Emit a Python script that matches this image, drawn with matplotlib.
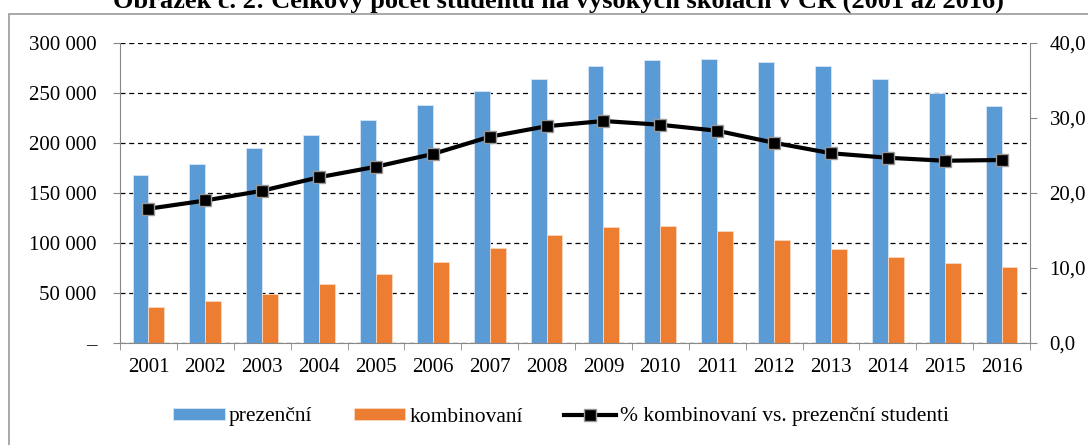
import numpy as np
import matplotlib.pyplot as plt
from matplotlib.patches import Rectangle
from matplotlib.ticker import FuncFormatter

plt.rcParams['font.family'] = ['Liberation Serif', 'DejaVu Serif']
plt.rcParams['font.size'] = 15

years = ['2001', '2002', '2003', '2004', '2005', '2006', '2007', '2008',
         '2009', '2010', '2011', '2012', '2013', '2014', '2015', '2016']
prezencni = [167700, 179000, 195300, 207700, 223000, 237700, 251700, 263700,
             276700, 283300, 284000, 281300, 277000, 263700, 249700, 236700]
kombinovani = [36000, 42000, 49300, 58700, 68700, 80700, 95000, 107700,
               116000, 116700, 111700, 102700, 93700, 85700, 79700, 76300]
podil = [17.9, 19.0, 20.3, 22.1, 23.5, 25.2, 27.5, 28.9,
         29.6, 29.1, 28.3, 26.7, 25.3, 24.7, 24.3, 24.4]

title = 'Obrázek č. 2: Celkový počet studentů na vysokých školách v ČR (2001 až 2016)'

fig = plt.figure(figsize=(10.88, 4.45), dpi=100)
ax = fig.add_axes([120 / 1088, 1 - 343 / 445, 910 / 1088, 300 / 445])

x = np.arange(len(years))
w = 0.28
ax.bar(x - w / 2, prezencni, w, color='#5B9BD5', edgecolor='#D6E6F5', linewidth=0.6,
       label='prezenční', zorder=2)
ax.bar(x + w / 2, kombinovani, w, color='#ED7D31', edgecolor='#F9D9C3', linewidth=0.6,
       label='kombinovaní', zorder=2)

ax.set_xlim(-0.5, len(years) - 0.5)
ax.set_ylim(0, 300000)
ax.set_yticks(np.arange(0, 300001, 50000))
ax.yaxis.set_major_formatter(FuncFormatter(
    lambda v, p: '–' if v == 0 else f'{int(v):,}'.replace(',', ' ')))
ax.grid(axis='y', color='black', linestyle=(0, (4, 3)), linewidth=0.9, zorder=1)
ax.set_axisbelow(True)

ax.set_xticks(x)
ax.set_xticklabels(years)
ax.set_xticks(np.arange(-0.5, len(years)), minor=True)
ax.tick_params(axis='x', which='major', length=0, pad=11)
ax.tick_params(axis='x', which='minor', length=5, color='#888888', direction='out')
ax.tick_params(axis='y', length=5, color='#888888', pad=12)

for s in ['top', 'right']:
    ax.spines[s].set_visible(False)
for s in ['left', 'bottom']:
    ax.spines[s].set_color('#888888')

ax2 = ax.twinx()
ax2.plot(x, podil, color='black', linewidth=3, marker='s', markersize=8,
         markerfacecolor='black', markeredgecolor='#999999', markeredgewidth=1,
         label='% kombinovaní vs. prezenční studenti', zorder=3)
ax2.set_ylim(0, 40)
ax2.set_yticks([0, 10, 20, 30, 40])
ax2.yaxis.set_major_formatter(FuncFormatter(lambda v, p: f'{v:.1f}'.replace('.', ',')))
ax2.tick_params(axis='y', length=5, color='#888888', pad=9)
for s in ['top', 'left', 'bottom']:
    ax2.spines[s].set_visible(False)
ax2.spines['right'].set_color('#888888')

h1, l1 = ax.get_legend_handles_labels()
h2, l2 = ax2.get_legend_handles_labels()
fig.legend(h1 + h2, l1 + l2, loc='center', bbox_to_anchor=(561 / 1088, 1 - 417 / 445),
           ncol=3, frameon=False, fontsize=15.5, handlelength=2.4, handleheight=0.44,
           columnspacing=1.9, handletextpad=0.2, numpoints=1, borderpad=0)

fig.patches.append(Rectangle((9 / 1088, -0.1), 1.2, 1 - 14 / 445 + 0.1,
                             transform=fig.transFigure, fill=False,
                             edgecolor='#999999', linewidth=1.2))
fig.text(558 / 1088, 1 - 8 / 445, title, ha='center', va='baseline',
         fontsize=19, fontweight='bold')

fig.savefig('out.png', dpi=100)
